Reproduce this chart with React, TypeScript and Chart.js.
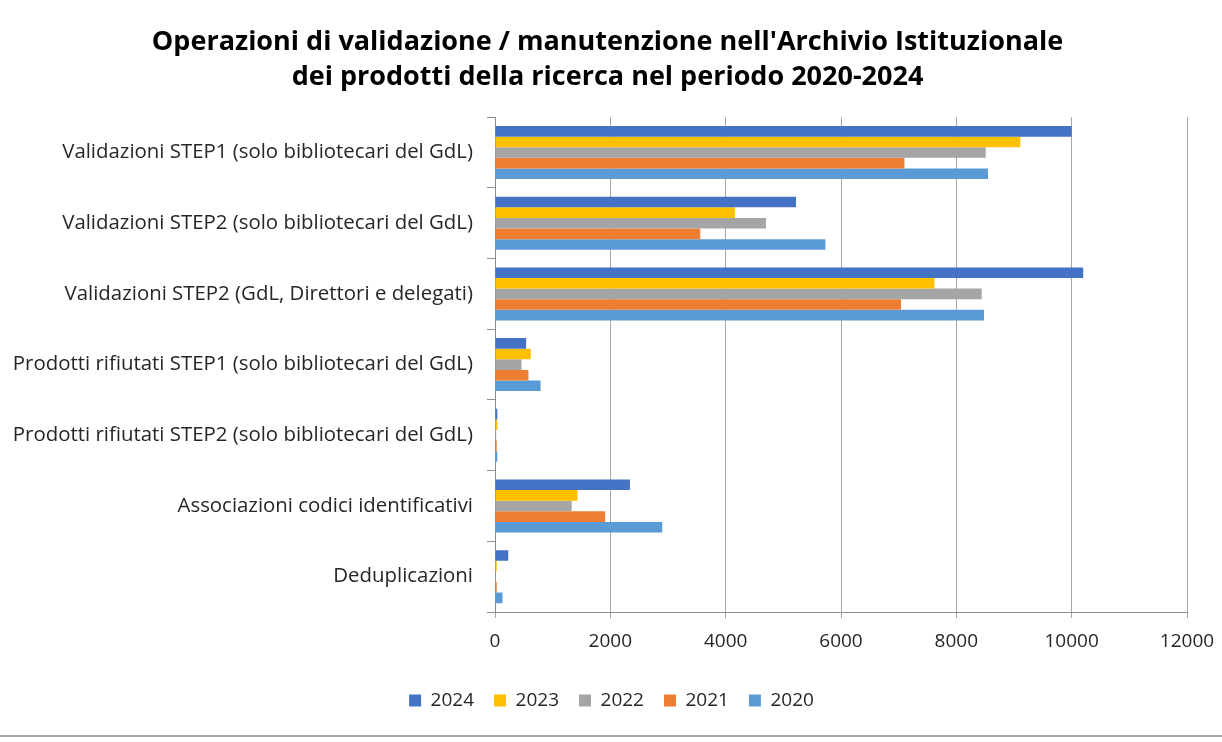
import React, { useEffect, useRef } from "react";
import { Chart, registerables } from "chart.js";

Chart.register(...registerables);

const categories = [
  "Validazioni STEP1 (solo bibliotecari del GdL)",
  "Validazioni STEP2 (solo bibliotecari del GdL)",
  "Validazioni STEP2 (GdL, Direttori e delegati)",
  "Prodotti rifiutati STEP1 (solo bibliotecari del GdL)",
  "Prodotti rifiutati STEP2 (solo bibliotecari del GdL)",
  "Associazioni codici identificativi",
  "Deduplicazioni",
];

const years = ["2024", "2023", "2022", "2021", "2020"];

const values2024 = [10000, 5220, 10200, 540, 40, 2340, 230];
const values2023 = [9110, 4160, 7620, 620, 40, 1430, 30];
const values2022 = [8510, 4700, 8440, 460, 20, 1330, 15];
const values2021 = [7100, 3560, 7040, 580, 30, 1910, 30];
const values2020 = [8550, 5730, 8480, 790, 40, 2900, 130];

const seriesColors = ["#4472C4", "#FFC000", "#A5A5A5", "#ED7D31", "#5B9BD5"];

const xTicks = [0, 2000, 4000, 6000, 8000, 10000, 12000];

const titleLines = [
  "Operazioni di validazione / manutenzione nell'Archivio Istituzionale",
  "dei prodotti della ricerca nel periodo 2020-2024",
];

const FONT = "'Open Sans', sans-serif";

const shiftBlocks = {
  id: "shiftBlocks",
  afterLayout(chart: any) {
    if (chart.titleBlock) {
      chart.titleBlock.left += 10;
      chart.titleBlock.right += 10;
    }
    if (chart.legend) {
      chart.legend.left += 14;
      chart.legend.right += 14;
    }
  },
};

export default function App() {
  const canvasRef = useRef<HTMLCanvasElement | null>(null);

  useEffect(() => {
    document.body.style.margin = "0";
    const ctx = canvasRef.current;
    if (!ctx) return;
    const allValues = [values2024, values2023, values2022, values2021, values2020];
    const chart = new Chart(ctx, {
      type: "bar",
      data: {
        labels: categories,
        datasets: years.map((y, i) => ({
          label: y,
          data: allValues[i],
          backgroundColor: seriesColors[i],
          borderWidth: 0,
          categoryPercentage: 0.75,
          barPercentage: 1.0,
        })),
      },
      plugins: [shiftBlocks],
      options: {
        indexAxis: "y",
        animation: false,
        responsive: false,
        layout: { padding: { top: 25, left: 8, right: 35, bottom: 15 } },
        plugins: {
          title: {
            display: true,
            text: titleLines,
            color: "#000000",
            font: { family: FONT, size: 27, weight: "bold", lineHeight: 1.3 },
            padding: { top: 0, bottom: 22 },
          },
          legend: {
            position: "bottom",
            labels: {
              color: "#262626",
              font: { family: FONT, size: 19 },
              boxWidth: 12,
              boxHeight: 12,
              padding: 20,
            },
          },
          tooltip: { enabled: false },
        },
        scales: {
          x: {
            min: 0,
            max: 12000,
            afterBuildTicks: (scale: any) => {
              scale.ticks = xTicks.map((v) => ({ value: v }));
            },
            afterFit: (scale: any) => {
              scale.height = 59;
              scale.paddingLeft = 0;
              scale.paddingRight = 0;
            },
            grid: {
              color: "#A6A6A6",
              lineWidth: 1,
              drawTicks: true,
              tickLength: 6,
            },
            border: { color: "#8C8C8C", width: 1 },
            ticks: {
              color: "#262626",
              font: { family: FONT, size: 19 },
              padding: 12,
              maxRotation: 0,
              callback: (v: any) => String(v),
            },
          },
          y: {
            afterFit: (scale: any) => {
              scale.width = 487;
              scale.paddingTop = 0;
              scale.paddingBottom = 0;
            },
            grid: {
              display: true,
              drawOnChartArea: false,
              offset: true,
              color: "#8C8C8C",
              tickLength: 8,
            },
            border: { color: "#8C8C8C", width: 1 },
            ticks: {
              color: "#262626",
              font: { family: FONT, size: 20.4 },
              padding: 14,
            },
          },
        },
      },
    });
    return () => chart.destroy();
  }, []);

  return (
    <div style={{ position: "relative", width: 1222, height: 742, background: "#fff" }}>
      <canvas ref={canvasRef} width={1222} height={735} style={{ display: "block" }} />
      <div
        style={{
          position: "absolute",
          left: 0,
          top: 735,
          width: 1222,
          height: 0,
          borderTop: "2px solid #A6A6A6",
        }}
      />
    </div>
  );
}
